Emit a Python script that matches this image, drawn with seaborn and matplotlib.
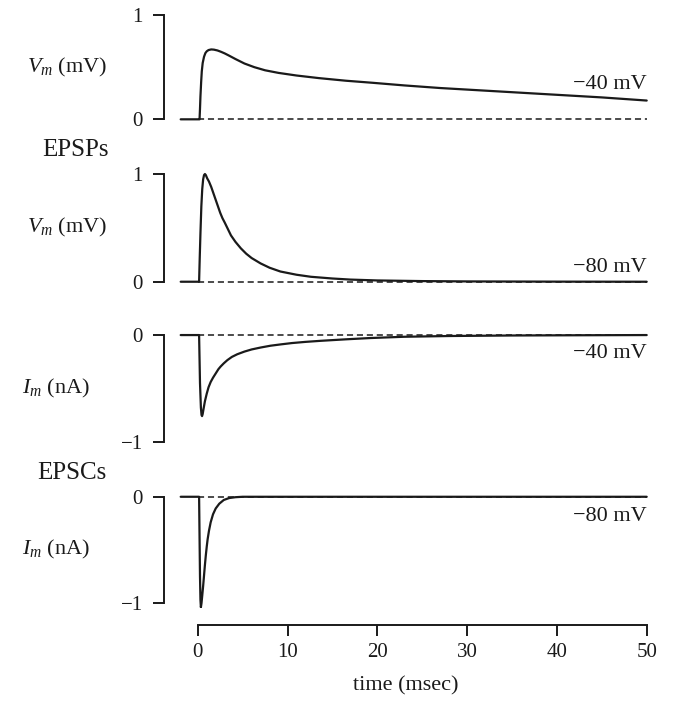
import matplotlib
matplotlib.use("Agg")
import matplotlib.pyplot as plt
import seaborn as sns

# EPSP at -40 mV (mV)
t_epsp40 = [-1.9, 0.2, 0.25, 0.3, 0.38, 0.45, 0.55, 0.7, 0.85, 1.0, 1.2, 1.5, 1.8, 2.2, 2.6,
            3.0, 3.5, 4.2, 5.2, 6.3, 7.5, 9, 11, 13.5, 16.5, 19.5, 23, 27, 31, 35, 40, 45, 50]
v_epsp40 = [0, 0, 0.1, 0.22, 0.36, 0.46, 0.54, 0.6, 0.635, 0.652, 0.664, 0.67, 0.668, 0.66,
            0.647, 0.632, 0.61, 0.578, 0.535, 0.5, 0.47, 0.445, 0.42, 0.395, 0.37, 0.35, 0.325,
            0.3, 0.28, 0.26, 0.235, 0.21, 0.18]

# EPSP at -80 mV (mV)
t_epsp80 = [-1.9, 0.15, 0.22, 0.3, 0.4, 0.5, 0.6, 0.7, 0.8, 0.9, 1.05, 1.25, 1.5, 1.75, 2.0,
            2.25, 2.5, 2.75, 3.0, 3.35, 3.7, 4.2, 4.8, 5.4, 6, 7, 8, 9.2, 11, 12.6, 15, 17, 20,
            25, 30, 40, 50]
v_epsp80 = [0, 0, 0.22, 0.45, 0.7, 0.86, 0.95, 0.99, 1.0, 0.99, 0.96, 0.93, 0.88, 0.82, 0.76,
            0.7, 0.64, 0.59, 0.55, 0.49, 0.43, 0.37, 0.31, 0.26, 0.22, 0.17, 0.13, 0.095,
            0.065, 0.046, 0.03, 0.02, 0.012, 0.006, 0.003, 0.001, 0]

# EPSC at -40 mV (nA)
t_epsc40 = [-1.9, 0.15, 0.25, 0.35, 0.42, 0.48, 0.55, 0.65, 0.8, 1.0, 1.2, 1.44, 1.7, 2.0,
            2.3, 2.55, 2.9, 3.3, 3.8, 4.4, 5.2, 6, 7, 8.1, 9.3, 10.5, 12, 13.7, 16.5, 19.2,
            23, 28, 35, 42, 50]
i_epsc40 = [0, 0, -0.45, -0.68, -0.75, -0.76, -0.74, -0.69, -0.62, -0.55, -0.49, -0.44,
            -0.4, -0.36, -0.32, -0.295, -0.265, -0.235, -0.205, -0.18, -0.155, -0.135, -0.117,
            -0.10, -0.087, -0.075, -0.064, -0.054, -0.04, -0.028, -0.016, -0.009, -0.004,
            -0.002, 0]

# EPSC at -80 mV (nA)
t_epsc80 = [-1.9, 0.15, 0.25, 0.3, 0.35, 0.42, 0.5, 0.6, 0.7, 0.8, 0.9, 1.0, 1.1, 1.25, 1.44,
            1.7, 2.0, 2.4, 2.9, 3.5, 4.2, 5, 50]
i_epsc80 = [0, 0, -0.75, -0.97, -1.04, -1.0, -0.93, -0.84, -0.74, -0.64, -0.55, -0.47,
            -0.4, -0.32, -0.24, -0.165, -0.11, -0.065, -0.03, -0.012, -0.004, 0, 0]

sns.set_theme(style="ticks")
plt.rcParams['font.family'] = ['Liberation Serif', 'DejaVu Serif']
plt.rcParams['mathtext.fontset'] = 'custom'
plt.rcParams['mathtext.rm'] = 'Liberation Serif'
plt.rcParams['mathtext.it'] = 'Liberation Serif:italic'

ink = "#1a1a1a"
fig = plt.figure(figsize=(6.77, 7.10), dpi=100)

# panel layout (figure fractions)
left, width = 0.2417, 0.7162
panels = [
    (0.8246, 0.1616, t_epsp40, v_epsp40, (0, 1), r"$V_m$ (mV)", "\u221240 mV", 0.33),
    (0.5956, 0.1669, t_epsp80, v_epsp80, (0, 1), r"$V_m$ (mV)", "\u221280 mV", 0.13),
    (0.3704, 0.1652, t_epsc40, i_epsc40, (-1, 0), r"$I_m$ (nA)", "\u221240 mV", -0.17),
    (0.1432, 0.1646, t_epsc80, i_epsc80, (-1, 0), r"$I_m$ (nA)", "\u221280 mV", -0.19),
]
label_right = [0.158, 0.158, 0.133, 0.133]

for k, (bot, h, tx, yv, (lo, hi), ylab, vlab, vy) in enumerate(panels):
    ax = fig.add_axes([left, bot, width, h])
    # dashed zero reference
    ax.plot([0, 50], [0, 0], color=ink, lw=1.1, ls=(0, (4, 2.5)))
    sns.lineplot(x=tx, y=yv, ax=ax, color=ink, linewidth=1.6, sort=False, estimator=None)
    ax.set_xlim(-3.8, 50.2)
    ax.set_ylim(lo - 0.05, hi + 0.05)
    ax.set_yticks([lo, hi])
    for s in ["top", "right"]:
        ax.spines[s].set_visible(False)
    ax.spines["left"].set_bounds(lo, hi)
    ax.spines["left"].set_linewidth(1.4)
    ax.spines["left"].set_color(ink)
    ax.tick_params(axis="y", direction="out", length=8, width=1.4, pad=7,
                   labelsize=15, colors=ink)
    ax.set_xlabel("")
    ax.set_ylabel("")
    ax.text(50, vy, vlab, ha="right", va="center", fontsize=16, color=ink)
    fig.text(label_right[k], bot + h / 2, ylab, ha="right", va="center", fontsize=16,
             color=ink)
    if k < 3:
        ax.spines["bottom"].set_visible(False)
        ax.tick_params(axis="x", bottom=False, labelbottom=False)
    else:
        ax.spines["bottom"].set_position(("outward", 12))
        ax.spines["bottom"].set_bounds(0, 50)
        ax.spines["bottom"].set_linewidth(1.4)
        ax.spines["bottom"].set_color(ink)
        ax.set_xticks([0, 10, 20, 30, 40, 50])
        ax.tick_params(axis="x", direction="out", length=8, width=1.4, pad=5,
                       labelsize=15, colors=ink)
        ax.set_xlabel("time (msec)", fontsize=16, color=ink, labelpad=10)

fig.text(0.16, 1 - 150 / 710, "EPSPs", ha="right", va="center", fontsize=18, color=ink)
fig.text(0.158, 1 - 473 / 710, "EPSCs", ha="right", va="center", fontsize=18, color=ink)

fig.savefig("out.png", dpi=100)
